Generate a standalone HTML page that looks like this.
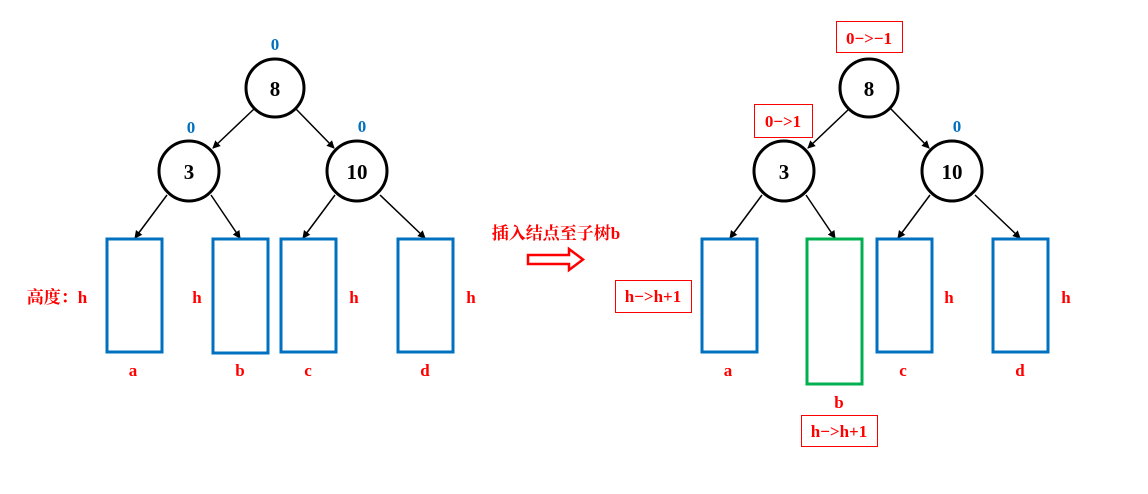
<!DOCTYPE html>
<html><head><meta charset="utf-8"><style>body{margin:0;background:#fff}svg{display:block}text{font-family:"Liberation Serif","Noto Serif CJK SC",serif;font-weight:bold}</style></head><body>
<svg width="1148" height="494" viewBox="0 0 1148 494" xmlns="http://www.w3.org/2000/svg">
<defs><marker id="ar" markerWidth="8" markerHeight="8" refX="7" refY="4" orient="auto" markerUnits="userSpaceOnUse"><path d="M0,0 L8,4 L0,8 z" fill="#000"/></marker></defs>
<g stroke="#000" stroke-width="1.5" marker-end="url(#ar)">
<line x1="254" y1="109" x2="213" y2="148"/><line x1="296" y1="109" x2="334" y2="148"/>
<line x1="167" y1="195" x2="135" y2="238"/><line x1="211" y1="195" x2="240" y2="238"/>
<line x1="335" y1="195" x2="303" y2="238"/><line x1="380" y1="195" x2="425" y2="238"/>
<line x1="849" y1="109" x2="808" y2="148"/><line x1="891" y1="109" x2="929" y2="148"/>
<line x1="762" y1="195" x2="730" y2="238"/><line x1="806" y1="195" x2="835" y2="238"/>
<line x1="930" y1="195" x2="898" y2="238"/><line x1="975" y1="195" x2="1020" y2="238"/>
</g>
<g fill="#fff" stroke="#000" stroke-width="3">
<circle cx="275" cy="88" r="29"/><circle cx="189" cy="171" r="30"/><circle cx="357" cy="171" r="30"/>
<circle cx="869" cy="88" r="29"/><circle cx="784" cy="171" r="30"/><circle cx="952" cy="171" r="30"/>
</g>
<g font-size="21" text-anchor="middle">
<text x="275" y="96">8</text><text x="189" y="179">3</text><text x="357" y="179">10</text>
<text x="869" y="96">8</text><text x="784" y="179">3</text><text x="952" y="179">10</text>
</g>
<g fill="none" stroke="#0070c0" stroke-width="3">
<rect x="107" y="239" width="55" height="113"/><rect x="213" y="239" width="55" height="114"/>
<rect x="281" y="239" width="55" height="113"/><rect x="398" y="239" width="55" height="113"/>
<rect x="702" y="239" width="55" height="113"/><rect x="877" y="239" width="55" height="113"/><rect x="993" y="239" width="55" height="113"/>
</g>
<rect x="807" y="239" width="55" height="145" fill="none" stroke="#00b050" stroke-width="3"/>
<g fill="#0070c0" font-size="17" text-anchor="middle">
<text x="275" y="50">0</text><text x="191" y="133">0</text><text x="362" y="132">0</text><text x="957" y="132">0</text>
</g>
<g fill="none" stroke="#f00" stroke-width="1">
<rect x="836.5" y="21.5" width="66" height="31"/><rect x="754.5" y="104.5" width="58" height="33"/>
<rect x="615.5" y="280.5" width="76" height="32"/><rect x="801.5" y="415.5" width="76" height="31"/>
</g>
<g fill="#f00" font-size="17" text-anchor="middle">
<text x="869" y="44">0−&gt;−1</text><text x="783" y="127">0−&gt;1</text>
<text x="653" y="302">h−&gt;h+1</text><text x="839" y="437">h−&gt;h+1</text>
<text x="57" y="303">高度：h</text><text x="197" y="303">h</text><text x="354" y="303">h</text><text x="471" y="303">h</text>
<text x="949" y="303">h</text><text x="1066" y="303">h</text>
<text x="133" y="376">a</text><text x="240" y="376">b</text><text x="308" y="376">c</text><text x="425" y="376">d</text>
<text x="728" y="376">a</text><text x="839" y="408">b</text><text x="903" y="376">c</text><text x="1020" y="376">d</text>
<text x="556" y="239">插入结点至子树b</text>
</g>
<path d="M528,255 L569,255 L569,249 L583,259.5 L569,270 L569,264 L528,264 Z" fill="#fff" stroke="#f00" stroke-width="2.5"/>
</svg>
</body></html>
